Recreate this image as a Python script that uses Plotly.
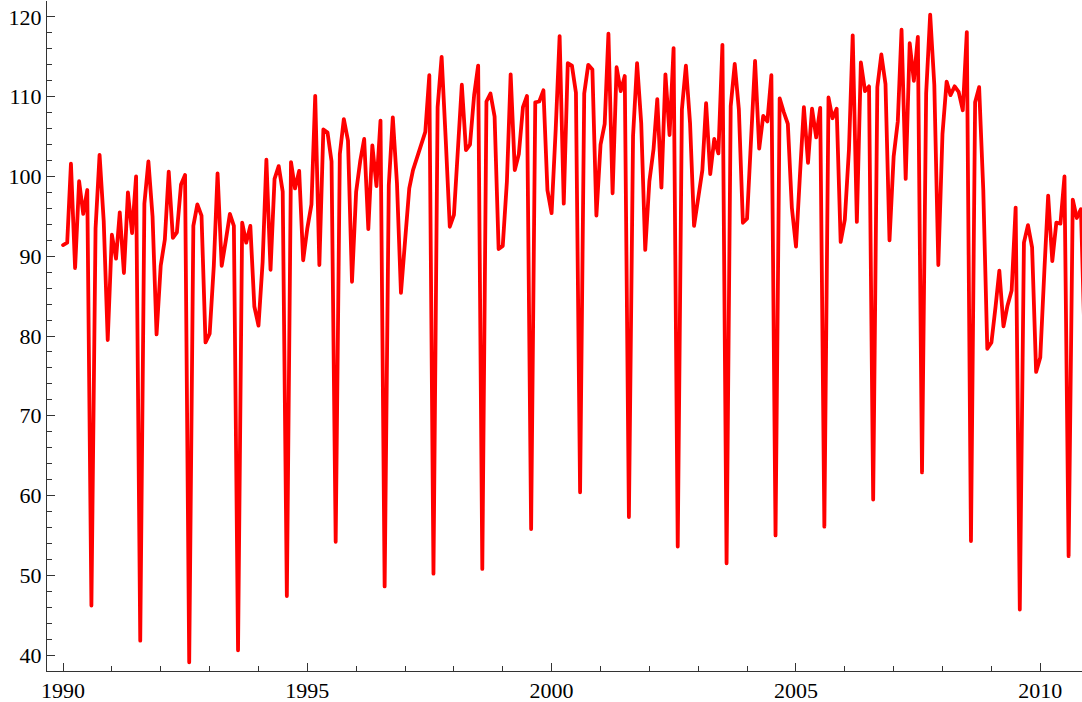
import pandas as pd
import plotly.graph_objects as go

start_month = "1990-01-01"

values_1990 = [91.4, 91.7, 101.6, 88.5, 99.4, 95.3, 98.3, 46.2, 93.5, 102.7, 94.4, 79.5]
values_1991 = [92.7, 89.7, 95.5, 87.9, 98.0, 92.9, 100.0, 41.8, 96.6, 101.9, 95.0, 80.2]
values_1992 = [88.8, 92.1, 100.6, 92.3, 93.0, 99.0, 100.2, 39.1, 93.8, 96.5, 95.1, 79.2]
values_1993 = [80.3, 88.8, 100.4, 88.8, 91.9, 95.3, 93.8, 40.6, 94.2, 91.7, 93.8, 83.7]
values_1994 = [81.3, 89.3, 102.1, 88.3, 99.7, 101.3, 98.1, 47.4, 101.8, 98.5, 100.7, 89.5]
values_1995 = [93.5, 96.5, 110.1, 88.9, 105.9, 105.5, 101.9, 54.2, 102.8, 107.2, 104.5, 86.8]
values_1996 = [98.1, 102.0, 104.7, 93.4, 103.9, 98.8, 107.0, 48.6, 98.9, 107.4, 99.2, 85.4]
values_1997 = [92.0, 98.5, 100.8, 102.5, 104.2, 105.6, 112.7, 50.2, 108.7, 115.0, 104.5, 93.7]
values_1998 = [95.2, 103.4, 111.5, 103.3, 104.0, 110.2, 113.9, 50.8, 109.4, 110.4, 107.5, 90.9]
values_1999 = [91.3, 99.4, 112.8, 100.8, 102.8, 108.7, 110.1, 55.8, 109.3, 109.4, 110.8, 98.3]
values_2000 = [95.4, 106.0, 117.6, 96.6, 114.2, 113.9, 110.5, 60.4, 110.4, 114.0, 113.4, 95.1]
values_2001 = [104.0, 106.6, 117.9, 97.9, 113.7, 110.7, 112.6, 57.3, 105.1, 114.2, 106.7, 90.8]
values_2002 = [99.4, 103.4, 109.7, 98.6, 112.8, 105.2, 116.1, 53.6, 108.4, 113.9, 106.7, 93.8]
values_2003 = [97.2, 100.8, 109.2, 100.3, 104.7, 102.9, 116.5, 51.5, 108.8, 114.1, 108.4, 94.2]
values_2004 = [94.7, 105.1, 114.5, 103.5, 107.6, 106.9, 112.7, 55.0, 109.8, 108.1, 106.6, 96.1]
values_2005 = [91.2, 100.6, 108.7, 101.7, 108.5, 104.9, 108.6, 56.1, 109.9, 107.3, 108.5, 91.8]
values_2006 = [94.6, 103.4, 117.7, 94.3, 114.3, 110.7, 111.3, 59.5, 111.2, 115.3, 111.6, 92.0]
values_2007 = [102.5, 106.9, 118.4, 99.7, 116.7, 112.0, 117.5, 62.9, 110.4, 120.3, 111.5, 88.9]
values_2008 = [105.3, 111.9, 110.2, 111.3, 110.6, 108.3, 118.1, 54.3, 109.3, 111.2, 98.3, 78.4]
values_2009 = [79.2, 83.7, 88.2, 81.2, 83.8, 85.7, 96.1, 45.7, 91.7, 93.9, 91.1, 75.5]
values_2010 = [77.3, 88.3, 97.6, 89.4, 94.2, 94.1, 100.0, 52.4, 97.1, 94.8, 95.9, 78.0]

y_tick_values = [40, 50, 60, 70, 80, 90, 100, 110, 120]
x_tick_labels = ["1990", "1995", "2000", "2005", "2010"]

values = (values_1990 + values_1991 + values_1992 + values_1993 + values_1994 +
          values_1995 + values_1996 + values_1997 + values_1998 + values_1999 +
          values_2000 + values_2001 + values_2002 + values_2003 + values_2004 +
          values_2005 + values_2006 + values_2007 + values_2008 + values_2009 +
          values_2010)
dates = pd.date_range(start_month, periods=len(values), freq="MS")

fig = go.Figure()
fig.add_trace(go.Scatter(
    x=dates, y=values, mode="lines",
    line=dict(color="#ff0000", width=3.8),
    hoverinfo="skip", showlegend=False,
))

axis_font = dict(family="Liberation Serif, Times New Roman, serif", size=22, color="#000000")

fig.update_layout(
    width=1082, height=702,
    margin=dict(l=47, r=0, t=1, b=31, pad=0),
    paper_bgcolor="white", plot_bgcolor="white",
    font=axis_font,
)
fig.update_xaxes(
    range=["1989-09-03", "2010-11-09"],
    tickvals=[f"{y}-01-01" for y in x_tick_labels],
    ticktext=x_tick_labels,
    ticks="inside", ticklen=8, tickwidth=1, tickcolor="#333333",
    minor=dict(dtick="M12", tick0="1990-01-01", ticks="inside", ticklen=5, tickwidth=1, tickcolor="#333333"),
    showline=True, linecolor="#333333", linewidth=1,
    showgrid=False, zeroline=False,
    tickfont=axis_font, automargin=False, ticklabelstandoff=0,
)
fig.update_yaxes(
    range=[38, 122],
    tickvals=y_tick_values,
    ticks="inside", ticklen=8, tickwidth=1, tickcolor="#333333",
    minor=dict(dtick=2, tick0=0, ticks="inside", ticklen=5, tickwidth=1, tickcolor="#333333"),
    showline=True, linecolor="#333333", linewidth=1,
    showgrid=False, zeroline=False,
    tickfont=axis_font, automargin=False, ticklabelstandoff=0,
)

post = """
document.body.style.margin = '0';
document.body.style.padding = '0';
var s = document.createElement('style');
s.innerHTML = 'html, body { margin: 0 !important; padding: 0 !important; overflow: hidden; } .modebar-container { display: none !important; } .scatterlayer path.js-line { stroke-linejoin: round !important; stroke-linecap: round !important; }';
document.head.appendChild(s);
"""
fig.write_html("out.html", post_script=post, config={"displayModeBar": False})
